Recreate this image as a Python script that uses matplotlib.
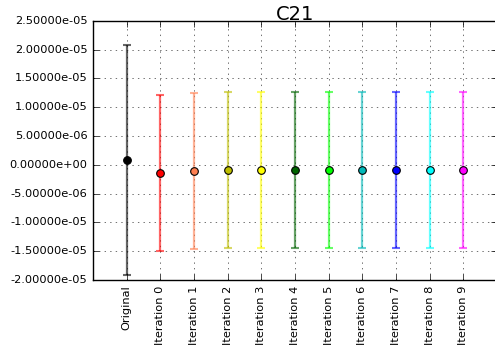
import numpy as np
import matplotlib
matplotlib.use('Agg')
import matplotlib.pyplot as plt
from matplotlib.ticker import FormatStrFormatter, MultipleLocator

plt.style.use('classic')

labels = ['Original'] + ['Iteration %d' % i for i in range(10)]
means = [8.3e-7, -1.43e-6, -1.09e-6, -0.97e-6, -0.95e-6, -0.91e-6,
         -0.90e-6, -0.86e-6, -0.86e-6, -0.88e-6, -0.86e-6]
errs = [2.0e-5, 1.35e-5, 1.35e-5, 1.357e-5, 1.357e-5, 1.356e-5,
        1.356e-5, 1.354e-5, 1.354e-5, 1.355e-5, 1.354e-5]
colors = ['k', 'r', 'coral', (0.75, 0.75, 0), 'yellow', 'darkgreen',
          'lime', (0, 0.72, 0.72), 'b', 'cyan', 'magenta']

fig = plt.figure(figsize=(4.95, 3.49), dpi=100)
ax = fig.add_axes([0.188, 0.198, 0.816, 0.742])

x = np.arange(len(labels))
for xi, m, e, c in zip(x, means, errs, colors):
    ax.errorbar(xi, m, yerr=e, fmt='none', ecolor=c, elinewidth=1.6,
                capsize=3, capthick=1.5, alpha=0.6, zorder=2)
    ax.plot(xi, m, 'o', color=c, markeredgecolor='k', markersize=5.5,
            markeredgewidth=0.8, zorder=3)

ax.set_xlim(-1, 11)
ax.set_ylim(-2e-5, 2.5e-5)
ax.yaxis.set_major_locator(MultipleLocator(5e-6))
ax.yaxis.set_major_formatter(FormatStrFormatter('%.5e'))
ax.set_xticks(x)
ax.set_xticklabels(labels, rotation=90, fontsize=8.2)
ax.tick_params(axis='y', labelsize=8.2)
ax.spines['right'].set_visible(False)
ax.grid(True, color='0.35', linestyle=':', linewidth=0.6)
ax.set_axisbelow(True)
ax.set_title('C21', fontsize=14, pad=1)

fig.savefig('out.png', dpi=100)
